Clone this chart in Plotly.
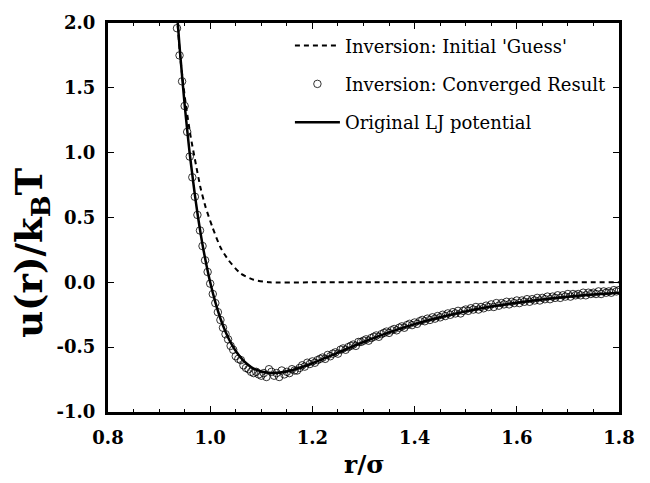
import plotly.graph_objects as go

# ---- data ----
r_lj = [0.935, 0.94, 0.945, 0.95, 0.955, 0.96, 0.965, 0.97, 0.975, 0.98, 0.985, 0.99, 0.995,
        1.00, 1.01, 1.02, 1.03, 1.04, 1.05, 1.06, 1.07, 1.08, 1.09, 1.10, 1.12, 1.14, 1.16,
        1.18, 1.20, 1.25, 1.30, 1.35, 1.40, 1.45, 1.50, 1.55, 1.60, 1.65, 1.70, 1.75, 1.80]
u_lj = [2.08, 1.82, 1.59, 1.37, 1.175, 0.99, 0.83, 0.674, 0.535, 0.407, 0.29, 0.185, 0.09,
        0.0, -0.153, -0.279, -0.381, -0.464, -0.530, -0.582, -0.6225, -0.653, -0.674, -0.688,
        -0.700, -0.694, -0.678, -0.653, -0.624, -0.542, -0.460, -0.386, -0.322, -0.269,
        -0.224, -0.187, -0.157, -0.132, -0.111, -0.094, -0.080]

r_guess = [0.935, 0.942, 0.952, 0.9615, 0.971, 0.981, 0.991, 1.004, 1.020, 1.036, 1.059,
           1.085, 1.117, 1.20, 1.80]
u_guess = [2.05, 1.71, 1.38, 1.13, 0.93, 0.73, 0.58, 0.43, 0.27, 0.17, 0.07, 0.02, 0.0,
           0.0, 0.0]

r_conv = [0.935, 0.940, 0.945, 0.950, 0.955, 0.960, 0.965, 0.970, 0.975, 0.980, 0.985, 0.990,
          0.995, 1.000, 1.005, 1.010, 1.015, 1.020, 1.025, 1.030, 1.035, 1.040, 1.045, 1.050,
          1.055, 1.060, 1.065, 1.070, 1.075, 1.080, 1.085, 1.090, 1.095, 1.100, 1.105, 1.110,
          1.115, 1.120, 1.125, 1.130, 1.135, 1.140, 1.145, 1.150, 1.155, 1.160, 1.165, 1.170,
          1.175, 1.180, 1.185, 1.190, 1.195, 1.200, 1.205, 1.210, 1.215, 1.220, 1.225, 1.230,
          1.235, 1.240, 1.245, 1.250, 1.255, 1.260, 1.265, 1.270, 1.275, 1.280, 1.285, 1.290,
          1.295, 1.300, 1.305, 1.310, 1.315, 1.320, 1.325, 1.330, 1.335, 1.340, 1.345, 1.350,
          1.355, 1.360, 1.365, 1.370, 1.375, 1.380, 1.385, 1.390, 1.395, 1.400, 1.405, 1.410,
          1.415, 1.420, 1.425, 1.430, 1.435, 1.440, 1.445, 1.450, 1.455, 1.460, 1.465, 1.470,
          1.475, 1.480, 1.485, 1.490, 1.495, 1.500, 1.505, 1.510, 1.515, 1.520, 1.525, 1.530,
          1.535, 1.540, 1.545, 1.550, 1.555, 1.560, 1.565, 1.570, 1.575, 1.580, 1.585, 1.590,
          1.595, 1.600, 1.605, 1.610, 1.615, 1.620, 1.625, 1.630, 1.635, 1.640, 1.645, 1.650,
          1.655, 1.660, 1.665, 1.670, 1.675, 1.680, 1.685, 1.690, 1.695, 1.700, 1.705, 1.710,
          1.715, 1.720, 1.725, 1.730, 1.735, 1.740, 1.745, 1.750, 1.755, 1.760, 1.765, 1.770,
          1.775, 1.780, 1.785, 1.790, 1.795, 1.800]
u_conv = [1.96, 1.75, 1.55, 1.36, 1.16, 0.97, 0.81, 0.66, 0.52, 0.40, 0.28, 0.17,
          0.08, -0.01, -0.09, -0.16, -0.23, -0.29, -0.35, -0.40, -0.44, -0.49, -0.52, -0.57,
          -0.59, -0.60, -0.64, -0.66, -0.67, -0.69, -0.70, -0.69, -0.71, -0.72, -0.70, -0.73,
          -0.67, -0.69, -0.72, -0.70, -0.73, -0.68, -0.71, -0.69, -0.70, -0.67, -0.68, -0.68,
          -0.66, -0.64, -0.65, -0.62, -0.63, -0.61, -0.62, -0.60, -0.59, -0.58, -0.59, -0.56,
          -0.57, -0.55, -0.54, -0.55, -0.52, -0.51, -0.52, -0.50, -0.49, -0.48, -0.49, -0.46,
          -0.46, -0.45, -0.44, -0.45, -0.43, -0.42, -0.41, -0.42, -0.40, -0.39, -0.38, -0.39,
          -0.37, -0.36, -0.37, -0.35, -0.34, -0.35, -0.33, -0.32, -0.33, -0.31, -0.32, -0.30,
          -0.29, -0.30, -0.28, -0.29, -0.27, -0.28, -0.26, -0.27, -0.25, -0.26, -0.24, -0.25,
          -0.23, -0.24, -0.22, -0.24, -0.22, -0.21, -0.22, -0.20, -0.21, -0.19, -0.21, -0.19,
          -0.20, -0.18, -0.19, -0.17, -0.19, -0.16, -0.18, -0.16, -0.17, -0.15, -0.17, -0.15,
          -0.16, -0.14, -0.16, -0.14, -0.15, -0.13, -0.15, -0.13, -0.14, -0.12, -0.14, -0.12,
          -0.13, -0.11, -0.13, -0.11, -0.12, -0.10, -0.12, -0.10, -0.11, -0.09, -0.11, -0.09,
          -0.10, -0.09, -0.10, -0.08, -0.10, -0.08, -0.09, -0.08, -0.09, -0.07, -0.09, -0.07,
          -0.08, -0.07, -0.08, -0.06, -0.07, -0.06]

x_ticks = [0.8, 1.0, 1.2, 1.4, 1.6, 1.8]
x_ticktext = ["0.8", "1.0", "1.2", "1.4", "1.6", "1.8"]
y_ticks = [-1.0, -0.5, 0.0, 0.5, 1.0, 1.5, 2.0]
y_ticktext = ["-1.0", "-0.5", "0.0", "0.5", "1.0", "1.5", "2.0"]

names = ["Inversion: Initial 'Guess'", "Inversion: Converged Result", "Original LJ potential"]

SERIF = "DejaVu Serif"

fig = go.Figure()
fig.add_trace(go.Scatter(x=r_guess, y=u_guess, mode="lines", name=names[0], legendgroup="a",
                         line=dict(color="black", width=2, dash="5px,4px", shape="spline", smoothing=0.6)))
fig.add_trace(go.Scatter(x=r_conv, y=u_conv, mode="markers", name=names[1], legendgroup="b",
                         marker=dict(symbol="circle-open", size=7.5, color="black",
                                     line=dict(color="black", width=0.8))))
fig.add_trace(go.Scatter(x=r_lj, y=u_lj, mode="lines", name=names[2], legendgroup="c",
                         line=dict(color="black", width=2.5, shape="spline", smoothing=0.6)))

axis_common = dict(showgrid=False, zeroline=False, showline=True, linecolor="black", linewidth=3,
                   mirror="ticks", ticks="inside", tickcolor="black", tickwidth=1, ticklen=6,
                   tickfont=dict(family=SERIF, size=18, color="black", weight="bold"))

fig.update_xaxes(range=[0.8, 1.8], tickvals=x_ticks, ticktext=x_ticktext, ticklabelstandoff=7,
                 minor=dict(ticks="inside", dtick=0.05, tick0=0.8, ticklen=3, tickwidth=1, tickcolor="black"),
                 **axis_common)
fig.update_yaxes(range=[-1.0, 2.0], tickvals=y_ticks, ticktext=y_ticktext, ticklabelstandoff=6,
                 **axis_common)

fig.add_annotation(text="r/σ", xref="paper", yref="paper", x=0.501, y=-0.136,
                   showarrow=False, font=dict(family=SERIF, size=25, color="black", weight="bold"),
                   xanchor="center", yanchor="middle")
fig.add_annotation(text="u(r)/k<sub>B</sub>T", xref="paper", yref="paper", x=-0.15, y=0.41,
                   showarrow=False, textangle=-90,
                   font=dict(family=SERIF, size=37, color="black", weight="bold"),
                   xanchor="center", yanchor="middle")

fig.update_layout(
    width=650, height=483,
    margin=dict(l=108, r=31, t=15, b=71),
    plot_bgcolor="white", paper_bgcolor="white",
    showlegend=True,
    legend=dict(x=0.356, y=0.989, xanchor="left", yanchor="top", bgcolor="rgba(0,0,0,0)",
                font=dict(family=SERIF, size=18, color="black"), itemwidth=45,
                tracegroupgap=12, traceorder="grouped"),
)

fig.write_html("out.html")
